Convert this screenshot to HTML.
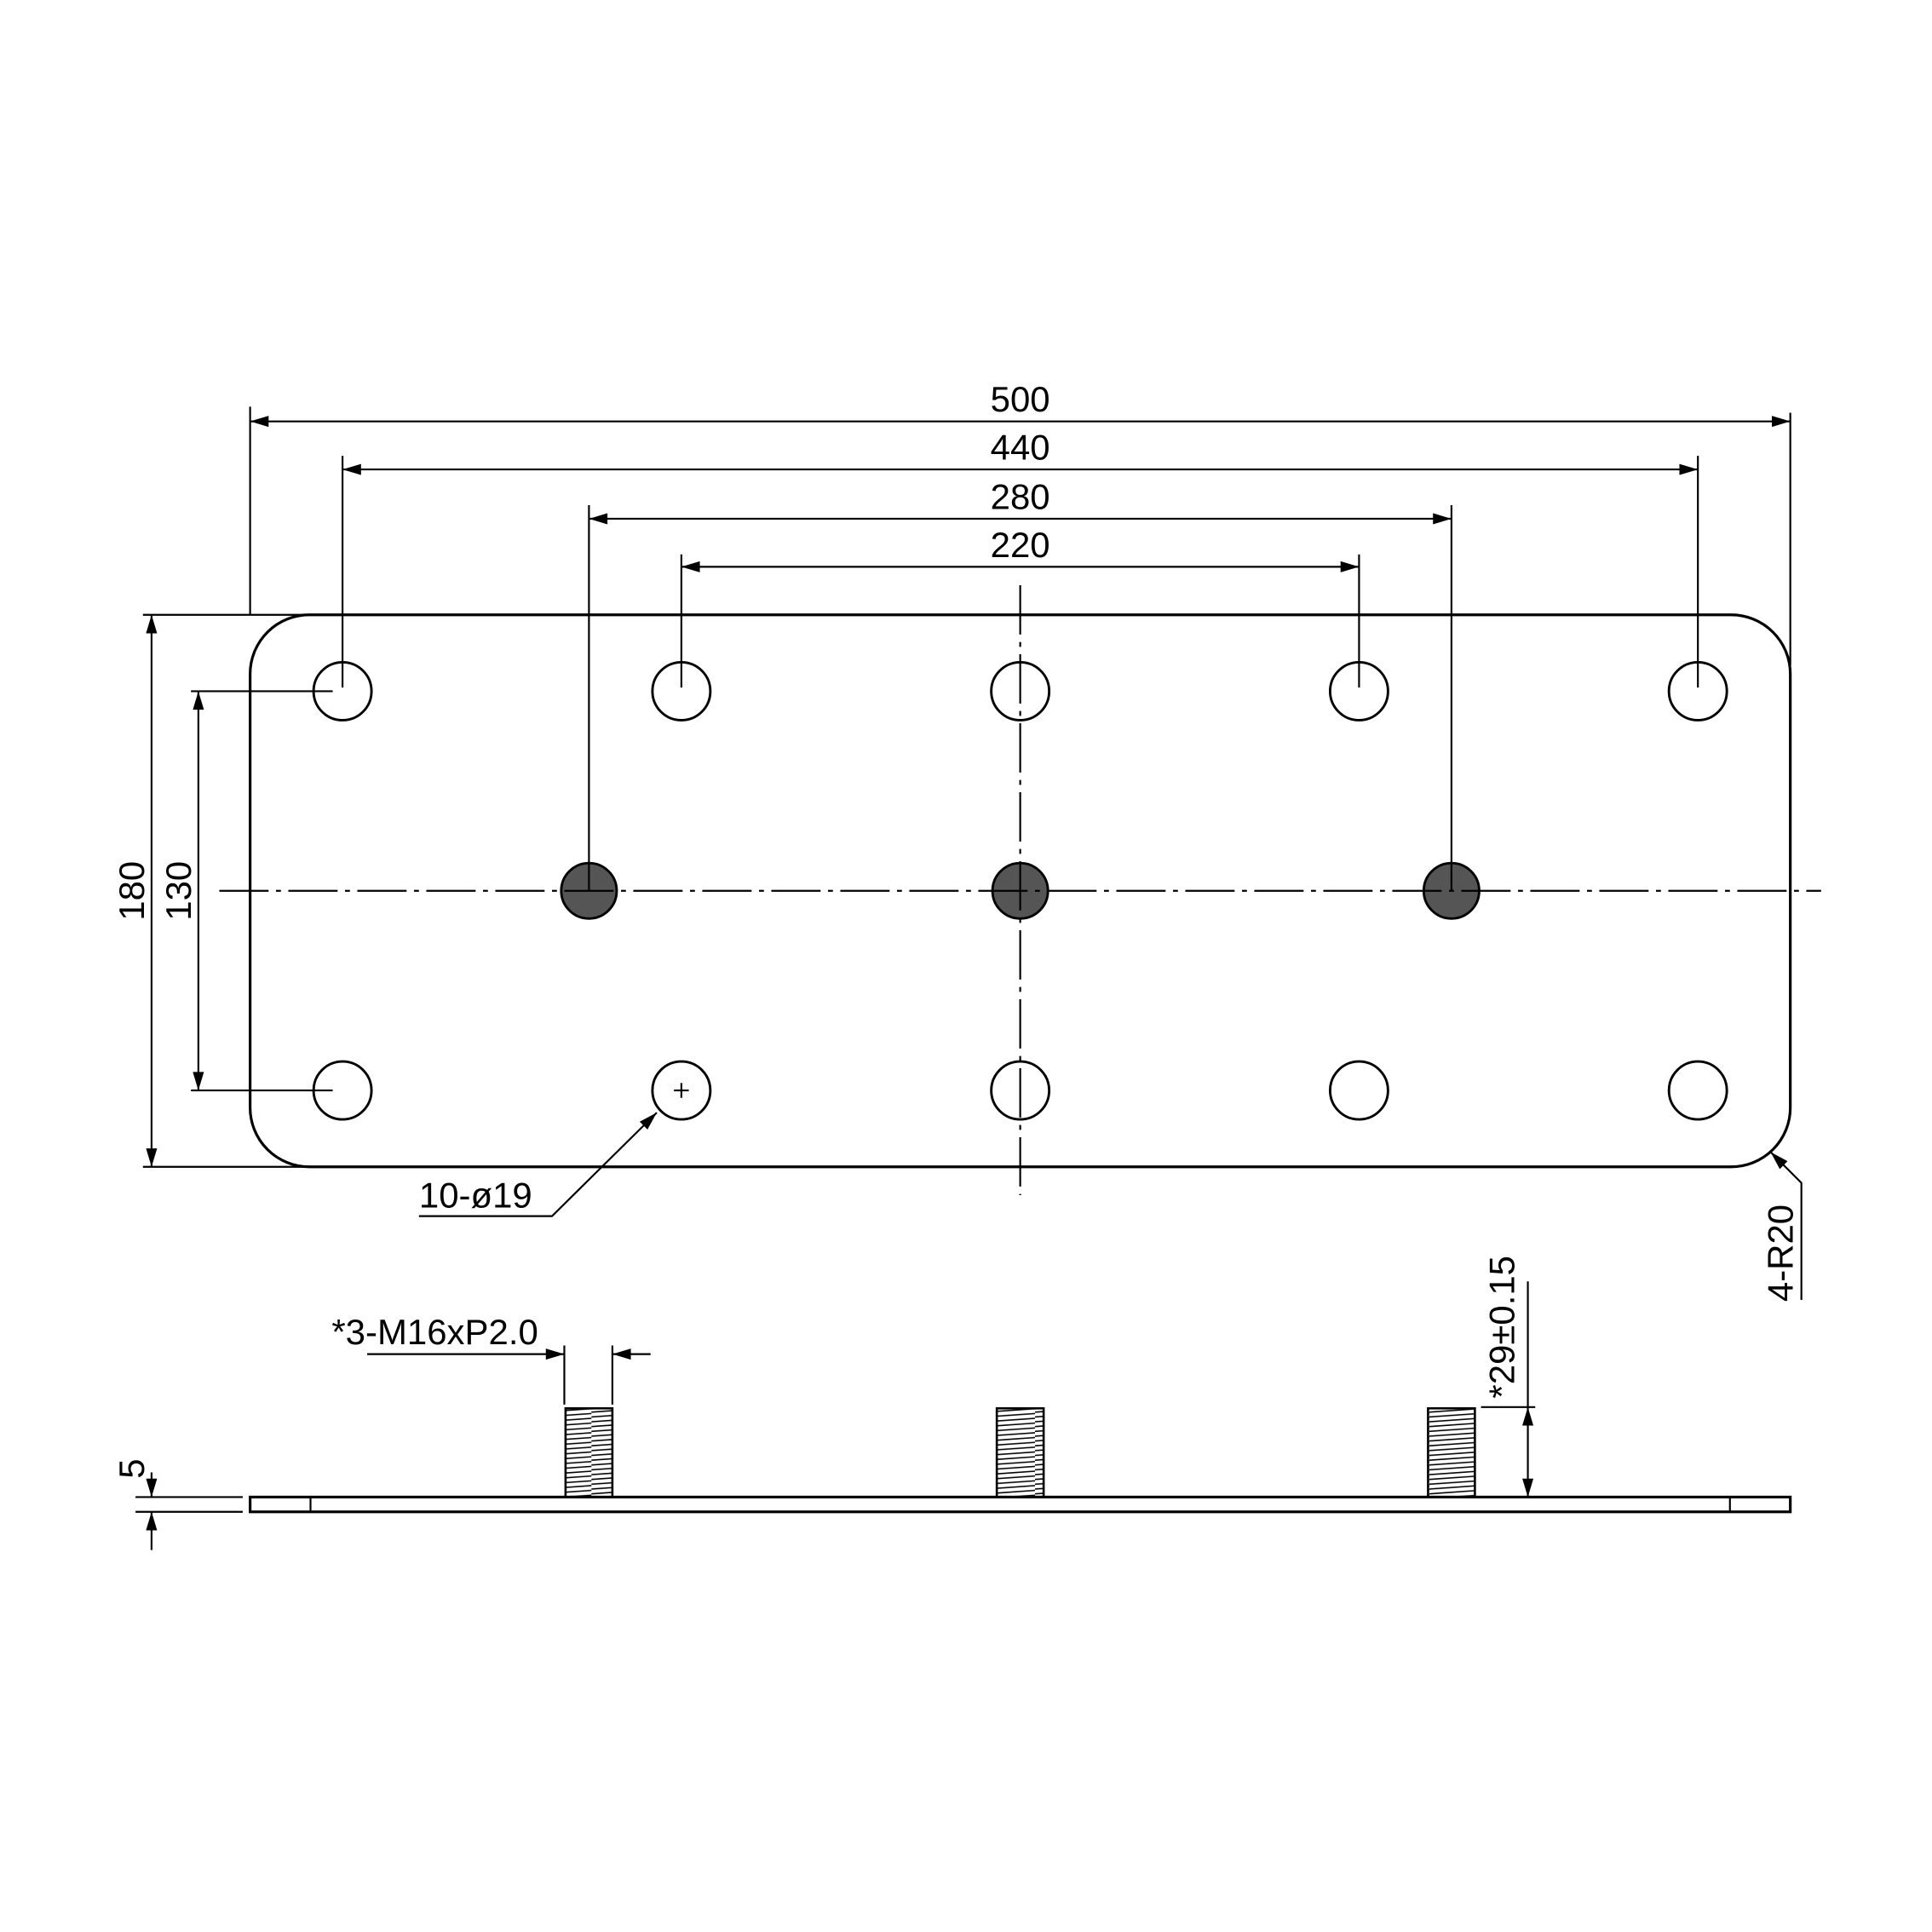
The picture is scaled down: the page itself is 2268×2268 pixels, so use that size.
<!DOCTYPE html>
<html><head><meta charset="utf-8"><style>html,body{margin:0;padding:0;background:#fff}svg{display:block}</style></head>
<body>
<svg width="2268" height="2268" viewBox="0 0 1568 1568" xmlns="http://www.w3.org/2000/svg" font-family="Liberation Sans, sans-serif" font-size="29">
<defs>
<marker id="a" viewBox="0 0 10 6" refX="10" refY="3" markerWidth="16" markerHeight="9" markerUnits="userSpaceOnUse" orient="auto-start-reverse"><path d="M0,0L10,3L0,6z" fill="#000"/></marker>
<pattern id="th" width="40" height="3.9" patternUnits="userSpaceOnUse"><line x1="0" y1="3.4" x2="40" y2="0.6" stroke="#000" stroke-width="1.1"/></pattern>
</defs>
<g fill="none" stroke="#000" stroke-width="1.5">
<rect x="203" y="499" width="1250" height="448" rx="48" stroke-width="2.2"/>
<g stroke-width="2">
<circle cx="278" cy="561" r="23.5"/><circle cx="553" cy="561" r="23.5"/><circle cx="828" cy="561" r="23.5"/><circle cx="1103" cy="561" r="23.5"/><circle cx="1378" cy="561" r="23.5"/>
<circle cx="278" cy="885" r="23.5"/><circle cx="553" cy="885" r="23.5"/><circle cx="828" cy="885" r="23.5"/><circle cx="1103" cy="885" r="23.5"/><circle cx="1378" cy="885" r="23.5"/>
<circle cx="478" cy="723" r="22.5" fill="#555"/><circle cx="828" cy="723" r="22.5" fill="#555"/><circle cx="1178" cy="723" r="22.5" fill="#555"/>
</g>
<path d="M547,885h12M553,879v12"/>
<line x1="178" y1="723" x2="1478" y2="723" stroke-dasharray="40,6,4,6"/>
<line x1="828" y1="475" x2="828" y2="970" stroke-dasharray="40,6,4,6"/>
<path d="M203,330V499M1453,335V540M278,370V558M1378,370V558M478,410V723M1178,410V723M553,450V558M1103,450V558"/>
<path d="M116,499H250M116,947H250M155,561H270M155,885H270"/>
<g marker-start="url(#a)" marker-end="url(#a)">
<line x1="203" y1="342" x2="1453" y2="342"/>
<line x1="278" y1="381" x2="1378" y2="381"/>
<line x1="478" y1="421" x2="1178" y2="421"/>
<line x1="553" y1="460" x2="1103" y2="460"/>
<line x1="123" y1="499" x2="123" y2="947"/>
<line x1="161" y1="561" x2="161" y2="885"/>
<line x1="1240" y1="1142" x2="1240" y2="1215"/>
</g>
<path d="M340,987H448L533,903" marker-end="url(#a)"/>
<path d="M1462,1055V960L1437,935" marker-end="url(#a)"/>
<rect x="203" y="1215" width="1250" height="12" stroke-width="2.2"/>
<path d="M252,1215v12M1404,1215v12"/>
<path d="M110,1215H197M110,1227H197"/>
<line x1="123" y1="1195" x2="123" y2="1215" marker-end="url(#a)"/>
<line x1="123" y1="1258" x2="123" y2="1227" marker-end="url(#a)"/>
<path d="M1202,1142H1246M1240,1142V1040"/>
<path d="M458,1092V1140M497,1092V1140"/>
<line x1="298" y1="1099" x2="458" y2="1099" marker-end="url(#a)"/>
<line x1="528" y1="1099" x2="497" y2="1099" marker-end="url(#a)"/>
<g stroke-width="1.8" fill="url(#th)">
<rect x="459" y="1143" width="38" height="72"/>
<rect x="809" y="1143" width="38" height="72"/>
<rect x="1159" y="1143" width="38" height="72"/>
</g>
</g>
<g fill="#000" text-anchor="middle">
<text x="828" y="334">500</text>
<text x="828" y="373">440</text>
<text x="828" y="413">280</text>
<text x="828" y="452">220</text>
<text transform="translate(117,723) rotate(-90)">180</text>
<text transform="translate(155,723) rotate(-90)">130</text>
<text transform="translate(117,1192) rotate(-90)">5</text>
<text transform="translate(1229,1077) rotate(-90)">*29±0.15</text>
<text transform="translate(1455,1017) rotate(-90)">4-R20</text>
<text x="386" y="980">10-ø19</text>
<text x="353" y="1091">*3-M16xP2.0</text>
</g>
</svg>
</body></html>
